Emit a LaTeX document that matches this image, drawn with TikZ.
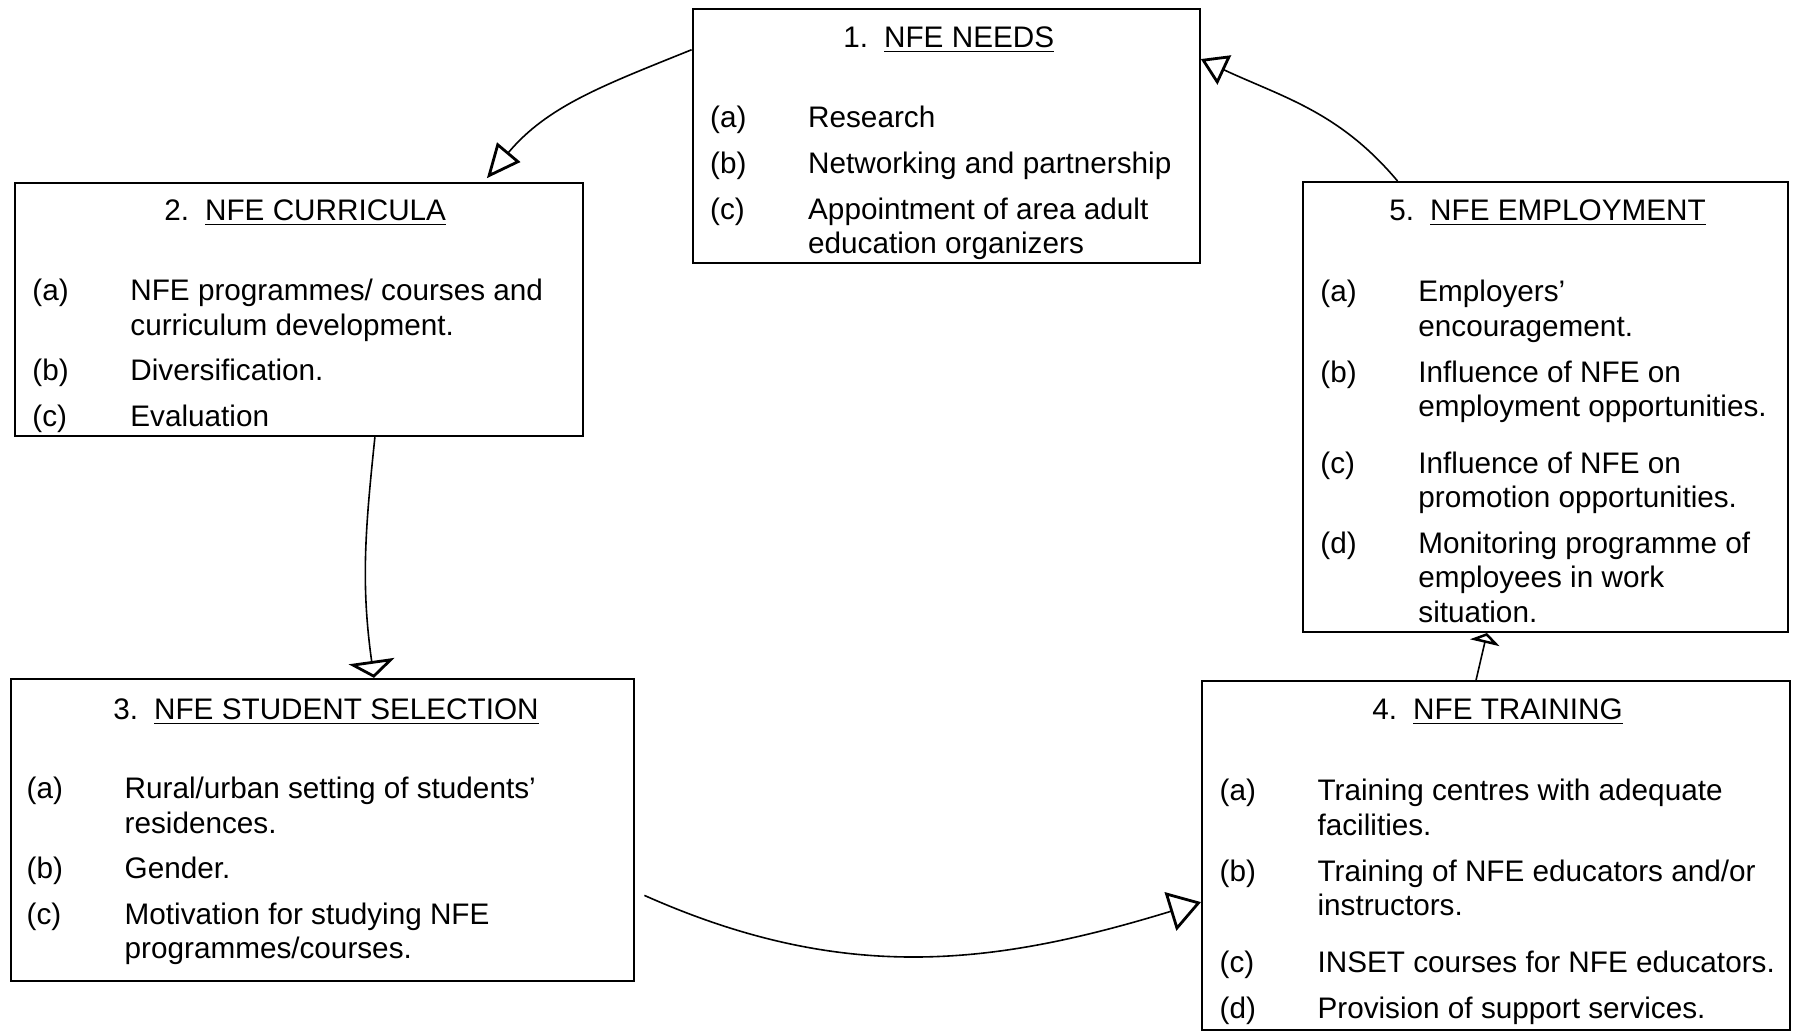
\documentclass[tikz,border=0pt]{standalone}
\usepackage{fontspec}
\setmainfont{Liberation Sans}
\usetikzlibrary{arrows.meta}

\tikzset{
	box/.style={draw, line width=1pt, inner sep=0pt},
	head/.style={anchor=base west, inner sep=0pt},
	list/.style={anchor=base west, inner sep=0pt},
	link/.style 2 args={line width=0.8pt, -{Triangle[open, line width=1.4pt, length=#1, width=#2]}},
}

\begin{document}
\begin{tikzpicture}[x=0.5pt, y=-0.5pt, font=\fontsize{14.85}{17.15}\selectfont]
	\useasboundingbox (0,0) rectangle (1795,1031);
	%\draw[red] (0,0) rectangle (1795,1031);

	% the five boxes
	\node[box, minimum width=253.6pt, minimum height=127pt] (needs) at (946.2,136.25) {};
	\node[box, minimum width=283.9pt, minimum height=126.5pt] (curricula) at (298.8,309.7) {};
	\node[box, minimum width=311.4pt, minimum height=151.1pt] (selection) at (322.8,830) {};
	\node[box, minimum width=294.2pt, minimum height=174.5pt] (training) at (1496.2,855.8) {};
	\node[box, minimum width=242.7pt, minimum height=225pt] (employment) at (1545.5,407) {};

	% headings
	\node[head] (needs-t) at (843,48) {1.\hspace{8pt}\underline{NFE NEEDS}};
	\node[head] (curricula-t) at (164,221) {2.\hspace{8pt}\underline{NFE CURRICULA}};
	\node[head] (selection-t) at (113,720) {3.\hspace{8pt}\underline{NFE STUDENT SELECTION}};
	\node[head] (training-t) at (1372,720) {4.\hspace{8pt}\underline{NFE TRAINING}};
	\node[head] (employment-t) at (1389,221) {5.\hspace{8pt}\underline{NFE EMPLOYMENT}};

	% lists
	\node[list] (needs-l) at (709.8,128) {\begin{tabular}[t]{@{}p{49pt}@{}l@{}}
		(a) & Research\\[5.75pt]
		(b) & Networking and partnership\\[5.75pt]
		(c) & Appointment of area adult\\
		    & education organizers
	\end{tabular}};
	\node[list] (curricula-l) at (32,300.8) {\begin{tabular}[t]{@{}p{49pt}@{}l@{}}
		(a) & NFE programmes/ courses and\\
		    & curriculum development.\\[5.75pt]
		(b) & Diversification.\\[5.75pt]
		(c) & Evaluation
	\end{tabular}};
	\node[list] (selection-l) at (26.3,798.8) {\begin{tabular}[t]{@{}p{49pt}@{}l@{}}
		(a) & Rural/urban setting of students'\\
		    & residences.\\[5.75pt]
		(b) & Gender.\\[5.75pt]
		(c) & Motivation for studying NFE\\
		    & programmes/courses.
	\end{tabular}};
	\node[list] (training-l) at (1219.2,801) {\begin{tabular}[t]{@{}p{49pt}@{}l@{}}
		(a) & Training centres with adequate\\
		    & facilities.\\[5.75pt]
		(b) & Training of NFE educators and/or\\
		    & instructors.\\[11.45pt]
		(c) & INSET courses for NFE educators.\\[5.75pt]
		(d) & Provision of support services.
	\end{tabular}};
	\node[list] (employment-l) at (1320,302) {\begin{tabular}[t]{@{}p{49pt}@{}l@{}}
		(a) & Employers'\\
		    & encouragement.\\[5.75pt]
		(b) & Influence of NFE on\\
		    & employment opportunities.\\[11.45pt]
		(c) & Influence of NFE on\\
		    & promotion opportunities.\\[5.75pt]
		(d) & Monitoring programme of\\
		    & employees in work\\
		    & situation.
	\end{tabular}};

	% arrows round the cycle
	\draw[link={17pt}{15pt}] ([yshift=-20.75pt]needs.north west) to[out=202, in=50] ([xshift=236.5pt, yshift=2pt]curricula.north west);
	\draw[link={8.5pt}{23pt}] ([xshift=180.5pt]curricula.south west) to[out=264, in=98] ([xshift=181.8pt]selection.north west);
	\draw[link={16pt}{20pt}] ([xshift=4.6pt, yshift=-108.75pt]selection.north east) to[out=336, in=197] ([yshift=-110.9pt]training.north west);
	\draw[link={5pt}{15pt}] ([xshift=137.5pt]training.north west) -- ([xshift=92.6pt]employment.south west);
	\draw[link={13pt}{16pt}] ([xshift=47.85pt]employment.north west) to[out=130, in=335] ([yshift=-25.4pt]needs.north east);
\end{tikzpicture}
\end{document}
